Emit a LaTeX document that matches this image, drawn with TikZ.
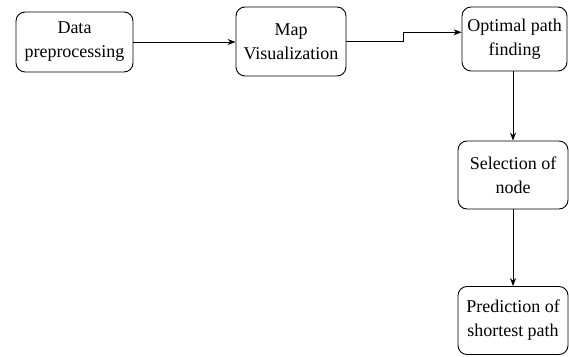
\documentclass[tikz,border=0pt]{standalone}
\usepackage{fontspec}
\setmainfont{Liberation Serif}
\usetikzlibrary{arrows.meta}
\begin{document}
\begin{tikzpicture}[x=1pt,y=1pt,
  box/.style={draw=black, line width=0.9pt, rounded corners=9pt, align=center, inner sep=0pt,
    font=\rmfamily\fontsize{18}{24}\selectfont},
  conn/.style={draw=black, line width=0.8pt, -{Stealth[length=8pt,width=6pt]}}]
\useasboundingbox (0,0) rectangle (569,356);
\node[box, minimum width=117pt, minimum height=60pt] (a) at (74.5,314) {Data\\preprocessing};
\node[box, minimum width=110pt, minimum height=69pt] (b) at (291,314.5) {Map\\Visualization};
\node[box, minimum width=105pt, minimum height=64pt] (c) at (514.5,317) {Optimal path\\finding};
\node[box, minimum width=110pt, minimum height=68pt] (d) at (513,181) {Selection of\\node};
\node[box, minimum width=110pt, minimum height=68pt] (e) at (513,35.5) {Prediction of\\shortest path};
\coordinate (k1) at (403,314.5);
\coordinate (k2) at (403,323.7);
\draw[conn] (a.east) -- (a.east -| b.west);
\draw[conn] (b.east) -- (k1) -- (k2) -- (k2 -| c.west);
\draw[conn] (c.south -| 513,0) -- (d.north -| 513,0);
\draw[conn] (d.south) -- (e.north);
\end{tikzpicture}
\end{document}
